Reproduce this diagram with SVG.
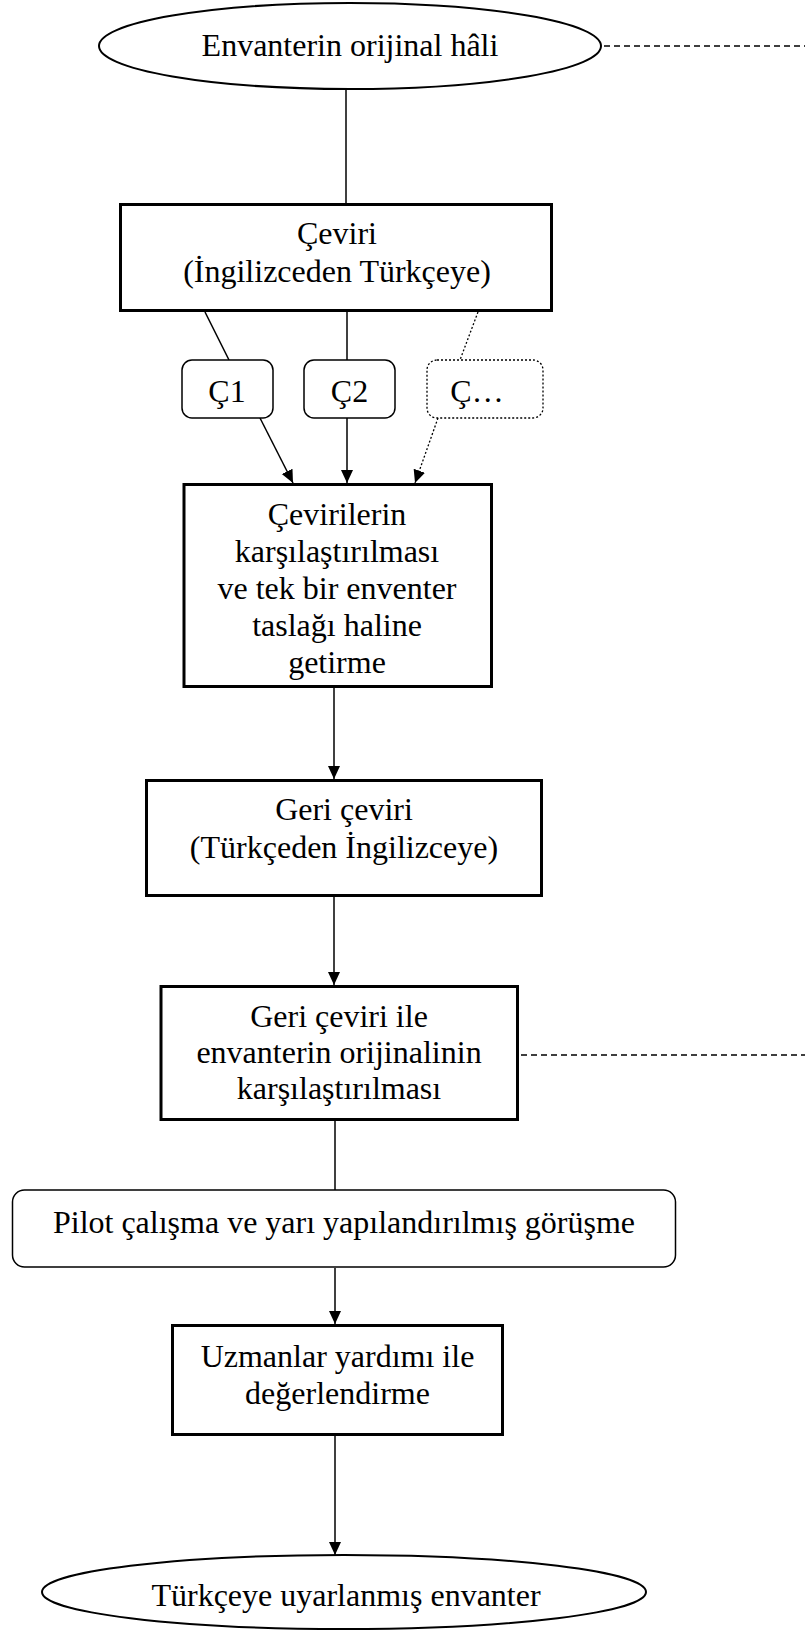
<svg xmlns="http://www.w3.org/2000/svg" width="805" height="1631" viewBox="0 0 805 1631">
<style>
text{font-family:"Liberation Serif","Times New Roman",serif;font-size:32px;fill:#000;text-anchor:middle}
.box{fill:#fff;stroke:#000;stroke-width:3}
.rbox{fill:#fff;stroke:#000;stroke-width:1.5}
.dbox{fill:#fff;stroke:#000;stroke-width:1.3;stroke-dasharray:2 2}
.ell{fill:#fff;stroke:#000;stroke-width:2}
.ln{fill:none;stroke:#000;stroke-width:1.5}
.dot{fill:none;stroke:#000;stroke-width:1.3;stroke-dasharray:2 2}
.dash{fill:none;stroke:#000;stroke-width:1.3;stroke-dasharray:6 4}
</style>
<defs>
<marker id="arr" markerUnits="userSpaceOnUse" markerWidth="14" markerHeight="13" refX="13" refY="6" orient="auto">
<path d="M0,0 L13,6 L0,12 z" fill="#000"/>
</marker>
</defs>
<g id="connectors">
<line class="ln" x1="346" y1="89" x2="346" y2="204"/>
<line class="ln" x1="205" y1="312" x2="229" y2="360"/>
<line class="ln" x1="347" y1="312" x2="347" y2="360"/>
<line class="dot" x1="478" y1="312" x2="460" y2="360"/>
<line class="ln" x1="260" y1="418" x2="293" y2="483" marker-end="url(#arr)"/>
<line class="ln" x1="347" y1="418" x2="347" y2="483" marker-end="url(#arr)"/>
<line class="dot" x1="438" y1="418" x2="415" y2="483" marker-end="url(#arr)"/>
<line class="ln" x1="334" y1="688" x2="334" y2="779" marker-end="url(#arr)"/>
<line class="ln" x1="334" y1="897" x2="334" y2="985" marker-end="url(#arr)"/>
<line class="ln" x1="335" y1="1121" x2="335" y2="1190"/>
<line class="ln" x1="335" y1="1268" x2="335" y2="1324" marker-end="url(#arr)"/>
<line class="ln" x1="335" y1="1436" x2="335" y2="1555" marker-end="url(#arr)"/>
<line class="dash" x1="604" y1="46" x2="805" y2="46"/>
<line class="dash" x1="521" y1="1055" x2="805" y2="1055"/>
</g>
<g id="n-original">
<ellipse class="ell" cx="350" cy="46" rx="251" ry="43"/>
<text x="350" y="56">Envanterin orijinal hâli</text>
</g>
<g id="n-ceviri">
<rect class="box" x="120.5" y="204.5" width="431" height="106"/>
<text x="337" y="244">Çeviri</text>
<text x="337" y="282">(İngilizceden Türkçeye)</text>
</g>
<g id="n-c1">
<rect class="rbox" x="182" y="360" width="91" height="58" rx="10"/>
<text x="227" y="402">Ç1</text>
</g>
<g id="n-c2">
<rect class="rbox" x="304" y="360" width="91" height="58" rx="10"/>
<text x="349.5" y="402">Ç2</text>
</g>
<g id="n-cn">
<rect class="dbox" x="427" y="360" width="116" height="58" rx="10"/>
<text x="477" y="402">Ç…</text>
</g>
<g id="n-karsilastirma">
<rect class="box" x="184" y="484.5" width="307.5" height="202"/>
<text x="337" y="525">Çevirilerin</text>
<text x="337" y="562">karşılaştırılması</text>
<text x="337" y="599">ve tek bir enventer</text>
<text x="337" y="636">taslağı haline</text>
<text x="337" y="673">getirme</text>
</g>
<g id="n-geri">
<rect class="box" x="146.5" y="780.5" width="395" height="115"/>
<text x="344" y="820">Geri çeviri</text>
<text x="344" y="858">(Türkçeden İngilizceye)</text>
</g>
<g id="n-geri-karsi">
<rect class="box" x="161" y="986.5" width="356.5" height="133"/>
<text x="339" y="1027">Geri çeviri ile</text>
<text x="339" y="1063">envanterin orijinalinin</text>
<text x="339" y="1099">karşılaştırılması</text>
</g>
<g id="n-pilot">
<rect class="rbox" x="12.5" y="1190" width="663" height="77" rx="12"/>
<text x="344" y="1233">Pilot çalışma ve yarı yapılandırılmış görüşme</text>
</g>
<g id="n-uzman">
<rect class="box" x="172.5" y="1325.5" width="330" height="109"/>
<text x="337.5" y="1367">Uzmanlar yardımı ile</text>
<text x="337.5" y="1404">değerlendirme</text>
</g>
<g id="n-son">
<ellipse class="ell" cx="344" cy="1592" rx="302" ry="37"/>
<text x="346" y="1606">Türkçeye uyarlanmış envanter</text>
</g>
</svg>
